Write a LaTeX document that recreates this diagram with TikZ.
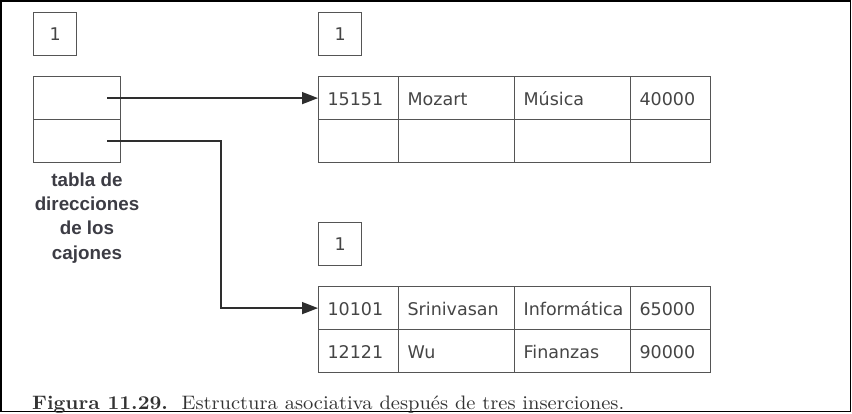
\documentclass[tikz,border=0pt]{standalone}
\usepackage{fontspec}
\newfontfamily\cellfont{DejaVu Sans}
\newfontfamily\labfont{Liberation Sans}
\usetikzlibrary{arrows.meta,calc}
\definecolor{txt}{HTML}{454545}
\definecolor{boxc}{HTML}{555555}
\definecolor{arrc}{HTML}{2E2E2E}
\definecolor{labc}{HTML}{3C3C44}
\definecolor{capc}{HTML}{333333}
\begin{document}
\begin{tikzpicture}[x=1pt,y=-1pt,
  cell/.style={draw=boxc, line width=1.2pt, minimum height=43pt, inner ysep=0pt,
    inner xsep=9pt, text height=14pt, text depth=0pt, align=left, anchor=north west,
    font=\cellfont\fontsize{17.5}{20}\selectfont, text=txt},
  hcell/.style={draw=boxc, line width=1.2pt, minimum width=87pt, minimum height=43pt,
    inner sep=0pt, anchor=north west},
  numbox/.style={draw=boxc, line width=1.2pt, minimum width=43pt, minimum height=43pt,
    inner sep=0pt, text height=13pt, text depth=0pt, anchor=north west,
    font=\cellfont\fontsize{17.5}{20}\selectfont, text=txt},
  arr/.style={draw=arrc, line width=1.5pt, -{Triangle[length=16pt,width=12pt]}},
]
\useasboundingbox (0,0) rectangle (852,413);
\draw[line width=1.5pt] (0.75,0.75) rectangle (850.5,411.5);

% left: bucket address table
\node[numbox] (n0) at (33,12) {1};
\node[hcell] (h1) at (33,76) {};
\node[hcell] (h2) at (33,119) {};
\node[font=\labfont\bfseries\fontsize{18.8}{24.3}\selectfont, text=labc, align=center, anchor=base] (lbl) at (87,259) {tabla de\\direcciones\\de los\\cajones};

% bucket 1
\node[numbox] (n1) at (318,12) {1};
\node[cell, text width=62pt] (a11) at (318,76) {15151};
\node[cell, text width=98pt] (a12) at (398,76) {Mozart};
\node[cell, text width=98pt] (a13) at (514,76) {Música};
\node[cell, text width=62pt] (a14) at (630,76) {40000};
\node[cell, text width=62pt] (a21) at (318,119) {};
\node[cell, text width=98pt] (a22) at (398,119) {};
\node[cell, text width=98pt] (a23) at (514,119) {};
\node[cell, text width=62pt] (a24) at (630,119) {};

% bucket 2
\node[numbox] (n2) at (318,222) {1};
\node[cell, text width=62pt] (b11) at (318,286) {10101};
\node[cell, text width=98pt] (b12) at (398,286) {Srinivasan};
\node[cell, text width=98pt] (b13) at (514,286) {Informática};
\node[cell, text width=62pt] (b14) at (630,286) {65000};
\node[cell, text width=62pt] (b21) at (318,329) {12121};
\node[cell, text width=98pt] (b22) at (398,329) {Wu};
\node[cell, text width=98pt] (b23) at (514,329) {Finanzas};
\node[cell, text width=62pt] (b24) at (630,329) {90000};

% pointers
\draw[arr] ($(h1.east)+(-14,0)$) -- (a11.west);
\draw[arr] ($(h2.east)+(-14,0)$) -- ++(114,0) |- (b11.west);

% caption
\node[anchor=base west, inner sep=0pt, text=capc] (cap) at (32,409.5)
  {\resizebox{592pt}{13.6pt}{\textbf{Figura 11.29.}\ \ Estructura asociativa después de tres inserciones.}};
\end{tikzpicture}
\end{document}
